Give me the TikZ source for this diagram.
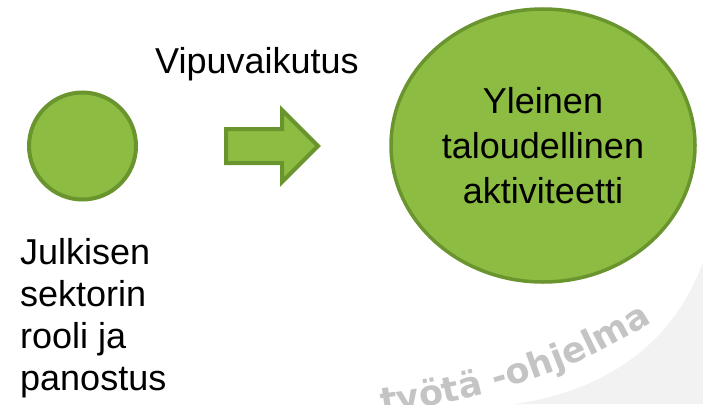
\documentclass[tikz,border=0pt]{standalone}
\usepackage{fontspec}
\setmainfont{Liberation Sans}
\newfontfamily\markfont{DejaVu Sans}
\usetikzlibrary{shapes.geometric,decorations.text,positioning}

\definecolor{ballfill}{RGB}{141,188,66}
\definecolor{ballline}{RGB}{106,148,46}
\definecolor{markgrey}{RGB}{196,196,196}
\definecolor{bandgrey}{RGB}{242,242,242}

\begin{document}
\begin{tikzpicture}[x=1pt,y=-1pt,
	ball/.style={circle, fill=ballfill, draw=ballline, line width=4pt, inner sep=0pt},
	bigball/.style={ellipse, fill=ballfill, draw=ballline, line width=3.5pt,
		inner sep=0pt, align=center, font=\fontsize{36}{45}\selectfont},
	blockarrow/.style={fill=ballfill, draw=ballline, line width=4pt, line join=miter},
	caption/.style={inner sep=0pt, font=\fontsize{36}{42}\selectfont}]
	\useasboundingbox (0,0) rectangle (703,404);

	% watermark in the corner
	\begin{scope}
		\clip (0,0) rectangle (703,404);
		\fill[bandgrey] (703,262) .. controls (675,340) and (610,390) .. (515,404) -- (703,404) -- cycle;
		\path[decorate, decoration={text along path, text color=markgrey, text align=right,
			text={|\markfont\bfseries\fontsize{35}{35}\selectfont|työtä -ohjelma}}]
			(290,424) .. controls (420,412) and (540,394) .. (652,322);
	\end{scope}

	\node[ball, minimum size=107pt] (sector) at (82.5,146) {};
	\node[bigball, minimum width=304pt, minimum height=273pt] (economy) at (543,145.5)
		{Yleinen\\taloudellinen\\aktiviteetti};

	\draw[blockarrow] (226,129) -- (282,129) -- (282,110) -- (318,146)
		-- (282,182) -- (282,163) -- (226,163) -- cycle;

	\node[caption, anchor=base west] (lever) at (155,73) {Vipuvaikutus};
	\node[caption, align=left, anchor=base west] (role) at (20,390)
		{Julkisen\\sektorin\\rooli ja\\panostus};
\end{tikzpicture}
\end{document}
